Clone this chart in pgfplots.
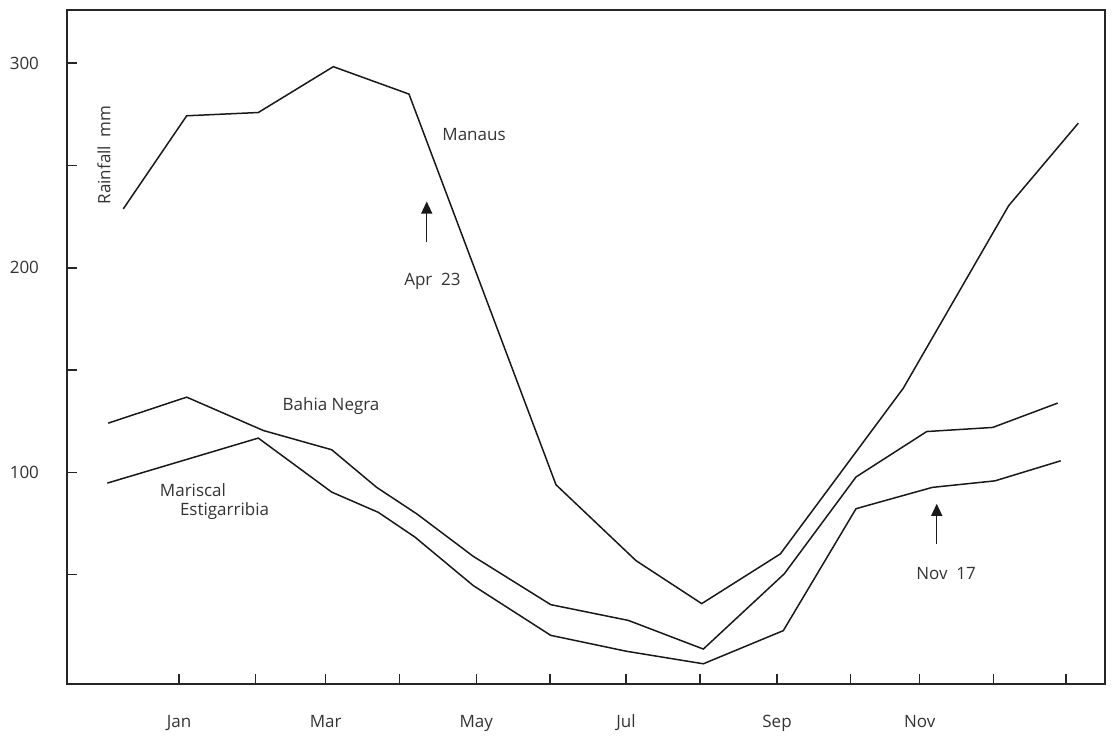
\documentclass[border=0pt]{standalone}
\usepackage{fontspec}
\setmainfont{Open Sans}
\usepackage{pgfplots}
\pgfplotsset{compat=1.18}
\usetikzlibrary{arrows.meta}
\newcommand{\lbl}{\fontsize{8.5bp}{10bp}\selectfont}
\begin{document}
\begin{tikzpicture}
\begin{axis}[
  scale only axis, width=519bp, height=337bp,
  xmin=-0.5156, xmax=13.530, ymin=-3.37, ymax=326.0,
  axis line style={draw=black!85, line width=1bp},
  tick style={draw=black!85, line width=0.7bp},
  tick align=inside, major tick length=5bp,
  xtick pos=bottom, ytick pos=left,
  xtick={1,2.038,2.985,3.986,5.023,6.020,7.049,8.051,9.092,10.089,11.023,12.019,13.0},
  xticklabels={Jan,,Mar,,May,,Jul,,Sep,,Nov,,},
  ytick={50,100,150,200,250,300}, yticklabels={,100,,200,,300},
  ticklabel style={font=\lbl, text=black!80},
  xticklabel style={yshift=-12bp},
  yticklabel style={xshift=-10.5bp},
  /pgf/number format/assume math mode=true,
  clip=false,
]
% Manaus
\addplot[black!90, line width=0.75bp, mark=none] coordinates {
(0.246,228.8) (1.104,274.3) (2.073,275.9) (3.088,298.3) (4.112,284.9)
(6.101,94.0) (7.184,56.9) (8.073,35.9) (9.137,60.2) (10.801,141.2)
(12.227,230.4) (13.169,270.7)};
% Bahia Negra
\addplot[black!90, line width=0.75bp, mark=none] coordinates {
(0.043,124.1) (1.104,136.8) (2.141,120.5) (3.066,111.1) (3.675,92.7)
(4.216,79.8) (4.982,59.0) (6.030,35.4) (7.080,27.7) (8.095,13.7)
(9.191,50.5) (10.161,97.8) (11.118,120.0) (12.011,122.0) (12.890,133.9)};
% Mariscal Estigarribia
\addplot[black!90, line width=0.75bp, mark=none] coordinates {
(0.030,94.8) (2.073,116.8) (3.066,90.4) (3.697,80.5) (4.193,68.4)
(4.982,44.7) (6.030,20.4) (7.058,12.6) (8.095,6.5) (9.177,22.7)
(10.161,82.3) (11.193,92.7) (12.042,95.9) (12.931,105.7)};

\node[font=\lbl, text=black!80, rotate=90] at (axis cs:-0.015,255.2) {Rainfall\ \ mm};
\node[font=\lbl, text=black!80] at (axis cs:4.992,265.0) {Manaus};
\node[font=\lbl, text=black!80] at (axis cs:3.057,132.6) {Bahia Negra};
\node[font=\lbl, text=black!80] at (axis cs:1.189,91.5) {Mariscal};
\node[font=\lbl, text=black!80] at (axis cs:1.616,81.3) {Estigarribia};
\draw[black!90, line width=0.6bp, -{Triangle[length=6bp,width=5.5bp]}] (axis cs:4.352,212.4) -- (axis cs:4.352,232.4);
\node[font=\lbl, text=black!80] at (axis cs:4.430,193.6) {Apr\ \ 23};
\draw[black!90, line width=0.6bp, -{Triangle[length=6bp,width=5.5bp]}] (axis cs:11.253,65.2) -- (axis cs:11.253,84.7);
\node[font=\lbl, text=black!80] at (axis cs:11.379,50.5) {Nov\ \ 17};
\end{axis}
\path ([shift={(-33.5bp,-25.5bp)}]current axis.south west) rectangle ([shift={(5bp,5bp)}]current axis.north east);
\end{tikzpicture}
\end{document}
